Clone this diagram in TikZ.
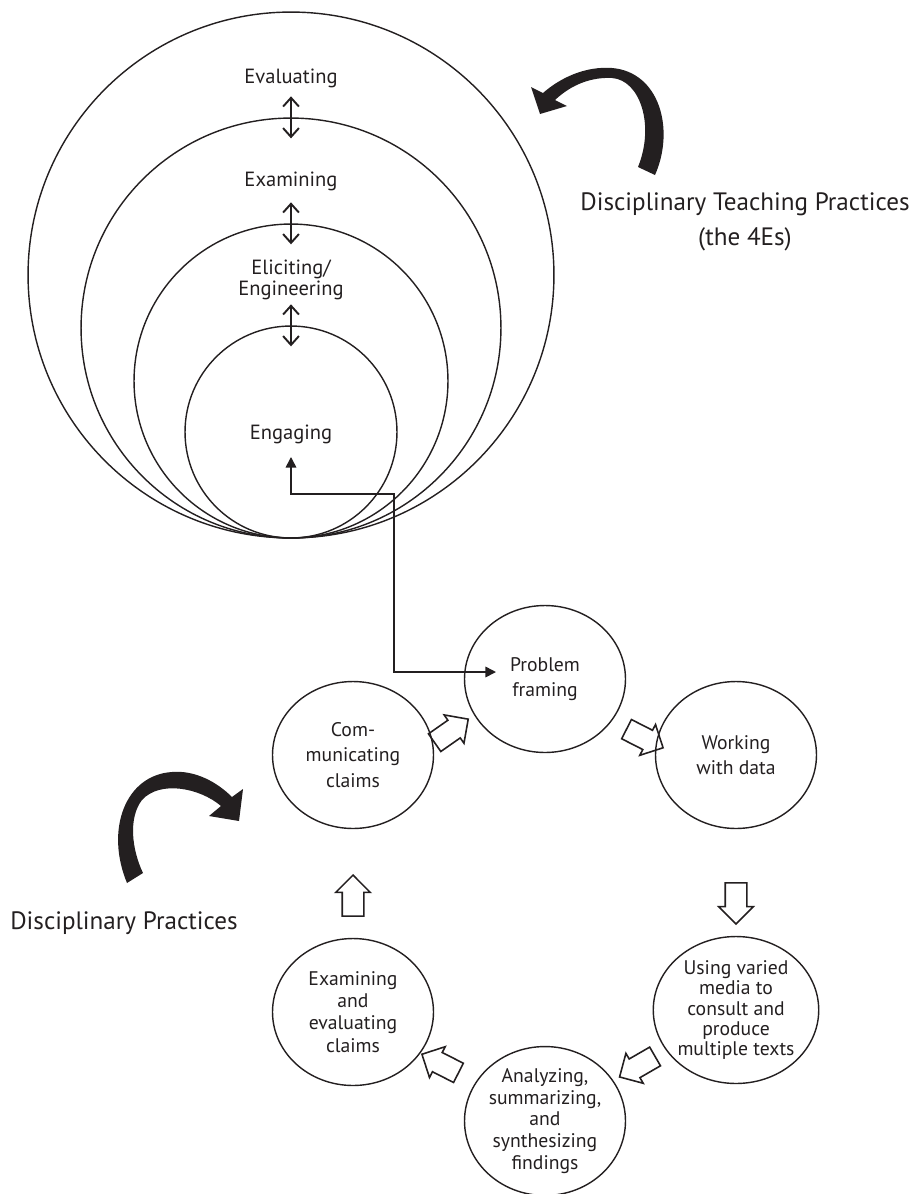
\documentclass[tikz,border=0pt]{standalone}
\usepackage{fontspec}
\setmainfont{PT Sans}
\usetikzlibrary{arrows.meta,shapes.geometric,shapes.arrows}

\definecolor{ink}{RGB}{35,31,32}

\tikzset{
  ring/.style={circle,draw=ink,line width=0.8pt,inner sep=0pt},
  tag/.style={font=\fontsize{11.7}{12}\selectfont,align=center,inner sep=1pt,text=ink},
  stage/.style={ellipse,draw=ink,line width=0.8pt,minimum width=3.22cm,minimum height=2.94cm,
    inner sep=0pt,align=center,text=ink,font=\fontsize{11.2}{14.5}\selectfont},
  updown/.style={{Straight Barb[length=5pt,width=9pt]}-{Straight Barb[length=5pt,width=9pt]},line width=1.1pt,draw=ink},
  twoway/.style={{Triangle[length=6pt,width=6pt]}-{Triangle[length=6pt,width=6pt]},line width=0.9pt,draw=ink},
  hollow/.style={single arrow,draw=ink,line width=0.9pt,minimum height=0.82cm,
    single arrow head extend=0.13cm,inner xsep=0pt,inner ysep=0.2cm,rotate=#1},
  caption/.style={font=\fontsize{14.3}{20}\selectfont,align=center,text=ink}
}

\begin{document}
\begin{tikzpicture}[x=0.02cm,y=-0.02cm]
  \useasboundingbox (0,0) rectangle (918,1194);

  % the 4Es, nested
  \node[ring,minimum size=10.52cm] (outer) at (291,275) {};
  \node[ring,minimum size=8.4cm] (second) at (291,328) {};
  \node[ring,minimum size=6.28cm] (third) at (291,381) {};
  \node[ring,minimum size=4.24cm] (inner) at (291,432) {};

  \node[tag] (evaluating) at (291,78) {Evaluating};
  \node[tag] (examining) at (291,181) {Examining};
  \node[tag] (eliciting) at (291,280) {Eliciting/\\Engineering};
  \node[tag] (engaging) at (291,434) {Engaging};

  \draw[updown] ([yshift=0.42cm]second.north) -- ([yshift=-0.42cm]second.north);
  \draw[updown] ([yshift=0.42cm]third.north) -- ([yshift=-0.42cm]third.north);
  \draw[updown] ([yshift=0.42cm]inner.north) -- ([yshift=-0.42cm]inner.north);

  \node[caption] (teaching) at (745,222) {Disciplinary Teaching Practices\\(the 4Es)};
  \fill[ink] (638,167) -- (655,175) .. controls (675,130) and (660,72) .. (612,68)
    .. controls (585,66) and (560,78) .. (543,93) -- (531,87) -- (540,114) -- (567,106) -- (555,100)
    .. controls (572,84) and (592,77) .. (612,78) .. controls (640,80) and (655,125) .. (638,167) -- cycle;

  % disciplinary practices cycle
  \node[stage] (framing) at (545,679) {Problem\\framing};
  \node[stage] (data) at (736,755) {Working\\with data};
  \node[stage,font=\fontsize{11.2}{11.4}\selectfont] (media) at (736,1010)
    {Using varied\\media to\\consult and\\produce\\multiple texts};
  \node[stage,font=\fontsize{11.2}{12.4}\selectfont] (findings) at (545,1121)
    {Analyzing,\\summarizing,\\and\\synthesizing\\findings};
  \node[stage,font=\fontsize{11.2}{12.6}\selectfont] (weighing) at (353,1012)
    {Examining\\and\\evaluating\\claims};
  \node[stage] (sharing) at (353,755) {Com-\\municating\\claims};

  \node[hollow=35] (step1) at (447,734) {};
  \node[hollow=-27] (step2) at (640,736) {};
  \node[hollow=-90] (step3) at (736,898) {};
  \node[hollow=210] (step4) at (642,1064) {};
  \node[hollow=153] (step5) at (445,1066) {};
  \node[hollow=90] (step6) at (353,901) {};

  \node[caption] (practices) at (124,923) {Disciplinary Practices};
  \fill[ink] (127,883) .. controls (105,830) and (125,775) .. (172,772)
    .. controls (195,770) and (217,782) .. (232,797) -- (243,789) -- (239,821) -- (209,816) -- (221,806)
    .. controls (200,788) and (160,780) .. (142,800) .. controls (128,818) and (132,850) .. (143,873) -- cycle;

  % link from engaging to problem framing
  \coordinate (bend) at (394,494);
  \coordinate (framein) at (496,672);
  \draw[twoway,shorten <=6.5pt] (engaging.south) |- (bend) |- (framein);
\end{tikzpicture}
\end{document}
